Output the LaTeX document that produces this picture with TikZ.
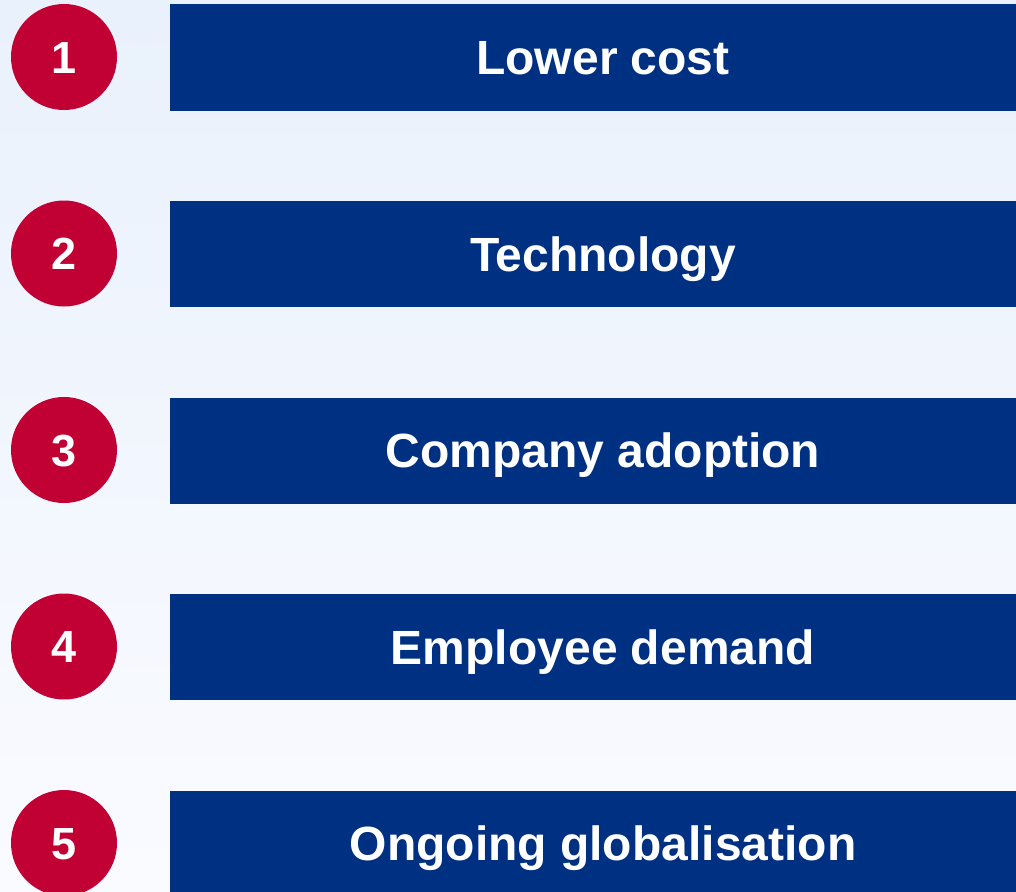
\documentclass[tikz,border=0pt]{standalone}
\usepackage{fontspec}
\setmainfont{Liberation Sans}
\definecolor{nsred}{HTML}{C10034}
\definecolor{nsblue}{HTML}{003082}
\definecolor{bgtop}{HTML}{E9F1FC}
\definecolor{bgbottom}{HTML}{FAFBFF}
\begin{document}
\begin{tikzpicture}[
    x=1pt, y=-1pt,
    num/.style={circle, fill=nsred, text=white, minimum size=106pt, inner sep=0pt, text height=32.2pt, text depth=0pt, font=\fontsize{45}{54}\selectfont\bfseries},
    bar/.style={rectangle, fill=nsblue, text=white, minimum width=866pt, minimum height=106pt, inner sep=0pt, text height=34.4pt, text depth=0pt, font=\fontsize{48}{58}\selectfont\bfseries}
]

% Background
\clip (0,0) rectangle (1016,891);
\shade[top color=bgtop, bottom color=bgbottom] (0,0) rectangle (1016,891);

% Numbers
\node[num] (num1) at (64, 57) {1};
\node[num] (num2) at (64, 253.5) {2};
\node[num] (num3) at (64, 450) {3};
\node[num] (num4) at (64, 646.5) {4};
\node[num] (num5) at (64, 843) {5};

% Bars
\node[bar] (bar1) at (603, 57.5) {Lower cost};
\node[bar] (bar2) at (603, 254) {Technology};
\node[bar] (bar3) at (603, 450.5) {Company adoption};
\node[bar] (bar4) at (603, 647) {Employee demand};
\node[bar] (bar5) at (603, 843.5) {Ongoing globalisation};

\end{tikzpicture}
\end{document}
